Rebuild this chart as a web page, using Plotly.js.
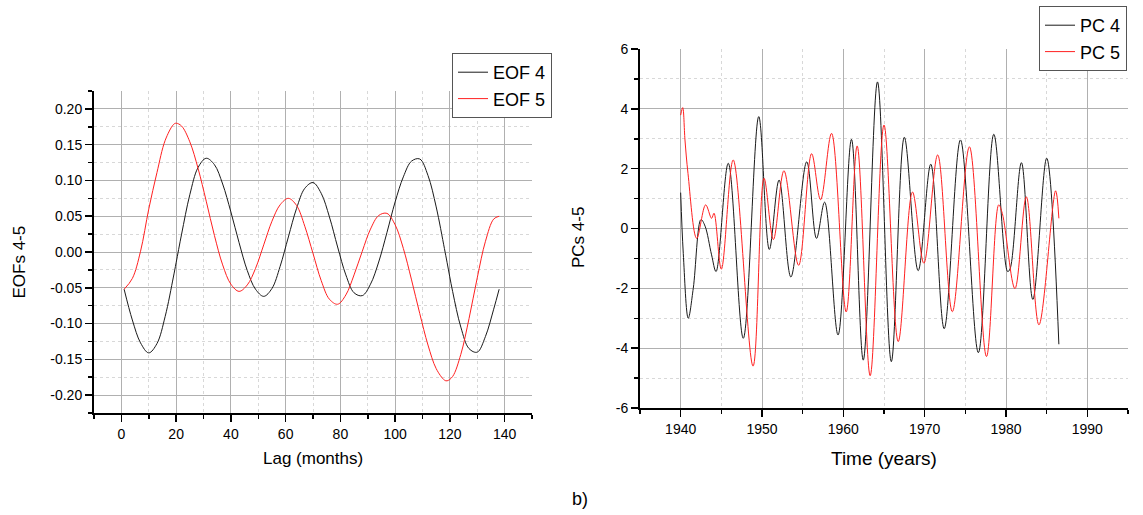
<!DOCTYPE html>
<html>
<head>
<meta charset="utf-8">
<script src="https://cdn.plot.ly/plotly-3.0.1.min.js"></script>
<style>
html,body{margin:0;padding:0;background:#fff;}
#chart{width:1143px;height:515px;}
</style>
</head>
<body>
<div id="chart"></div>
<script>
// ---- Panel a (left): EOFs vs lag ----
const lags = [1,4,7,10,13,16,19,20,22,25,28,31,34,37,40,43,46,49,52,55,58,61,64,67,70,73,76,79,82,85,88,91,94,97,100,103,106,109,112,115,118,119,121,124,127,130,133,136,138];
const eof4 = [-0.052,-0.095,-0.127,-0.141,-0.128,-0.090,-0.035,-0.015,0.025,0.080,0.118,0.131,0.122,0.095,0.056,0.013,-0.026,-0.052,-0.062,-0.051,-0.020,0.021,0.061,0.089,0.097,0.082,0.049,0.007,-0.032,-0.057,-0.061,-0.045,-0.014,0.027,0.070,0.105,0.127,0.130,0.107,0.063,0.005,-0.015,-0.055,-0.105,-0.135,-0.140,-0.118,-0.080,-0.052];
const eof5 = [-0.052,-0.037,0.001,0.060,0.111,0.156,0.178,0.180,0.176,0.154,0.117,0.071,0.023,-0.018,-0.045,-0.055,-0.046,-0.023,0.010,0.043,0.066,0.075,0.065,0.036,-0.002,-0.040,-0.066,-0.073,-0.060,-0.032,0.001,0.032,0.051,0.054,0.038,0.005,-0.039,-0.086,-0.130,-0.163,-0.179,-0.180,-0.174,-0.143,-0.093,-0.036,0.015,0.046,0.050];

// ---- Panel b (right): PCs vs time ----
const pc4Years = [1940.0,1940.32,1940.93,1941.55,1942.5,1943.0,1943.8,1944.35,1945.85,1947.7,1949.6,1950.9,1952.1,1953.55,1955.5,1956.7,1957.7,1959.35,1961.0,1962.45,1964.2,1965.9,1967.5,1969.2,1970.75,1972.4,1974.4,1976.6,1978.5,1980.2,1980.5,1981.9,1983.3,1985.0,1986.5];
const pc4Values = [1.2,-0.83,-3.0,-2.0,0.3,0.08,-0.88,-1.44,2.18,-3.67,3.74,-0.7,1.62,-1.62,2.23,-0.33,0.88,-3.56,2.98,-4.4,4.9,-4.45,3.05,-1.41,2.15,-3.35,2.96,-4.15,3.15,-1.44,-1.35,2.2,-2.37,2.35,-3.87];
const pc5Years = [1940.0,1940.25,1940.53,1940.9,1941.97,1943.07,1943.8,1944.1,1945.0,1946.46,1948.9,1950.25,1951.4,1952.7,1954.5,1956.1,1957.2,1958.55,1960.35,1961.7,1963.3,1965.0,1966.75,1968.5,1969.9,1971.6,1973.4,1975.5,1977.6,1979.1,1979.55,1981.1,1982.5,1984.05,1986.1,1986.5];
const pc5Values = [3.79,4.04,2.96,1.84,-0.33,0.79,0.34,0.51,-1.36,2.29,-4.6,1.68,-0.37,1.93,-1.23,2.5,0.96,3.18,-2.79,2.76,-4.92,3.46,-3.78,1.22,-1.16,2.46,-2.78,2.73,-4.28,0.79,0.5,-2.01,1.06,-3.22,1.26,0.34];

// ---- tick labels ----
const eofTickVals = [-0.2,-0.15,-0.1,-0.05,0,0.05,0.1,0.15,0.2];
const eofTickText = ['-0.20','-0.15','-0.10','-0.05','0.00','0.05','0.10','0.15','0.20'];
const pcTickVals = [-6,-4,-2,0,2,4,6];
const pcTickText = ['-6','-4','-2','0','2','4','6'];

const W = 1143, H = 515;
const FONT = 'Liberation Sans, Arial, sans-serif';

const traces = [
  {x: lags, y: eof4, name: 'EOF 4', mode: 'lines', line: {color: '#1a1a1a', width: 1, shape: 'spline'}, xaxis: 'x', yaxis: 'y', legend: 'legend'},
  {x: lags, y: eof5, name: 'EOF 5', mode: 'lines', line: {color: '#ff2020', width: 1, shape: 'spline'}, xaxis: 'x', yaxis: 'y', legend: 'legend'},
  {x: pc4Years, y: pc4Values, name: 'PC 4', mode: 'lines', line: {color: '#1a1a1a', width: 1, shape: 'spline'}, xaxis: 'x2', yaxis: 'y2', legend: 'legend2'},
  {x: pc5Years, y: pc5Values, name: 'PC 5', mode: 'lines', line: {color: '#ff2020', width: 1, shape: 'spline'}, xaxis: 'x2', yaxis: 'y2', legend: 'legend2'}
];

function axisBase() {
  return {
    showline: true, linecolor: '#000', linewidth: 2, mirror: false,
    ticks: 'outside', ticklen: 7, tickwidth: 1.5, tickcolor: '#000',
    showgrid: true, gridcolor: '#b0b0b0', gridwidth: 1,
    zeroline: false,
    tickfont: {family: FONT, size: 14, color: '#000'},
    fixedrange: true
  };
}
function minor(dtick, tick0) {
  return {tickmode: 'linear', tick0: tick0, dtick: dtick, ticks: 'outside', ticklen: 4, tickwidth: 1.5, tickcolor: '#000',
          showgrid: true, gridcolor: '#d8d8d8', griddash: 'dot', gridwidth: 1};
}

const layout = {
  width: W, height: H,
  margin: {l: 0, r: 0, t: 0, b: 0},
  paper_bgcolor: '#fff', plot_bgcolor: '#fff',
  font: {family: FONT, color: '#000'},
  xaxis: Object.assign(axisBase(), {domain: [94/W, 532/W], range: [-10, 150], tickmode: 'linear', tick0: 0, dtick: 20, minor: minor(10, 0), anchor: 'y'}),
  yaxis: Object.assign(axisBase(), {domain: [1-413/H, 1-91/H], range: [-0.225, 0.225], tickmode: 'array', tickvals: eofTickVals, ticktext: eofTickText, minor: minor(0.025, 0), anchor: 'x'}),
  xaxis2: Object.assign(axisBase(), {domain: [640/W, 1128/W], range: [1935, 1995], tickmode: 'linear', tick0: 1940, dtick: 10, minor: minor(5, 1935), anchor: 'y2'}),
  yaxis2: Object.assign(axisBase(), {domain: [1-408/H, 1-49/H], range: [-6, 6], tickmode: 'array', tickvals: pcTickVals, ticktext: pcTickText, minor: minor(1, 0), anchor: 'x2'}),
  legend: {x: 452/W, y: 1-53/H, xanchor: 'left', yanchor: 'top', bgcolor: '#fff', bordercolor: '#555', borderwidth: 1,
           font: {family: FONT, size: 18, color: '#000'}, tracegroupgap: 0, itemwidth: 30},
  legend2: {x: 1039/W, y: 1-6/H, xanchor: 'left', yanchor: 'top', bgcolor: '#fff', bordercolor: '#555', borderwidth: 1,
           font: {family: FONT, size: 18, color: '#000'}, tracegroupgap: 0, itemwidth: 30},
  annotations: [
    {text: 'EOFs 4-5', x: 18.5/W, y: 1-262/H, xref: 'paper', yref: 'paper', xanchor: 'center', yanchor: 'middle', textangle: -90, showarrow: false, font: {family: FONT, size: 17, color: '#000'}},
    {text: 'Lag (months)', x: 312.5/W, y: 1-458/H, xref: 'paper', yref: 'paper', xanchor: 'center', yanchor: 'middle', showarrow: false, font: {family: FONT, size: 17, color: '#000'}},
    {text: 'PCs 4-5', x: 578/W, y: 1-238/H, xref: 'paper', yref: 'paper', xanchor: 'center', yanchor: 'middle', textangle: -90, showarrow: false, font: {family: FONT, size: 17, color: '#000'}},
    {text: 'Time (years)', x: 883.5/W, y: 1-458/H, xref: 'paper', yref: 'paper', xanchor: 'center', yanchor: 'middle', showarrow: false, font: {family: FONT, size: 19, color: '#000'}},
    {text: 'b)', x: 580/W, y: 1-499/H, xref: 'paper', yref: 'paper', xanchor: 'center', yanchor: 'middle', showarrow: false, font: {family: FONT, size: 18, color: '#000'}}
  ],
  showlegend: true
};

Plotly.newPlot('chart', traces, layout, {displayModeBar: false, staticPlot: true});
</script>
</body>
</html>
